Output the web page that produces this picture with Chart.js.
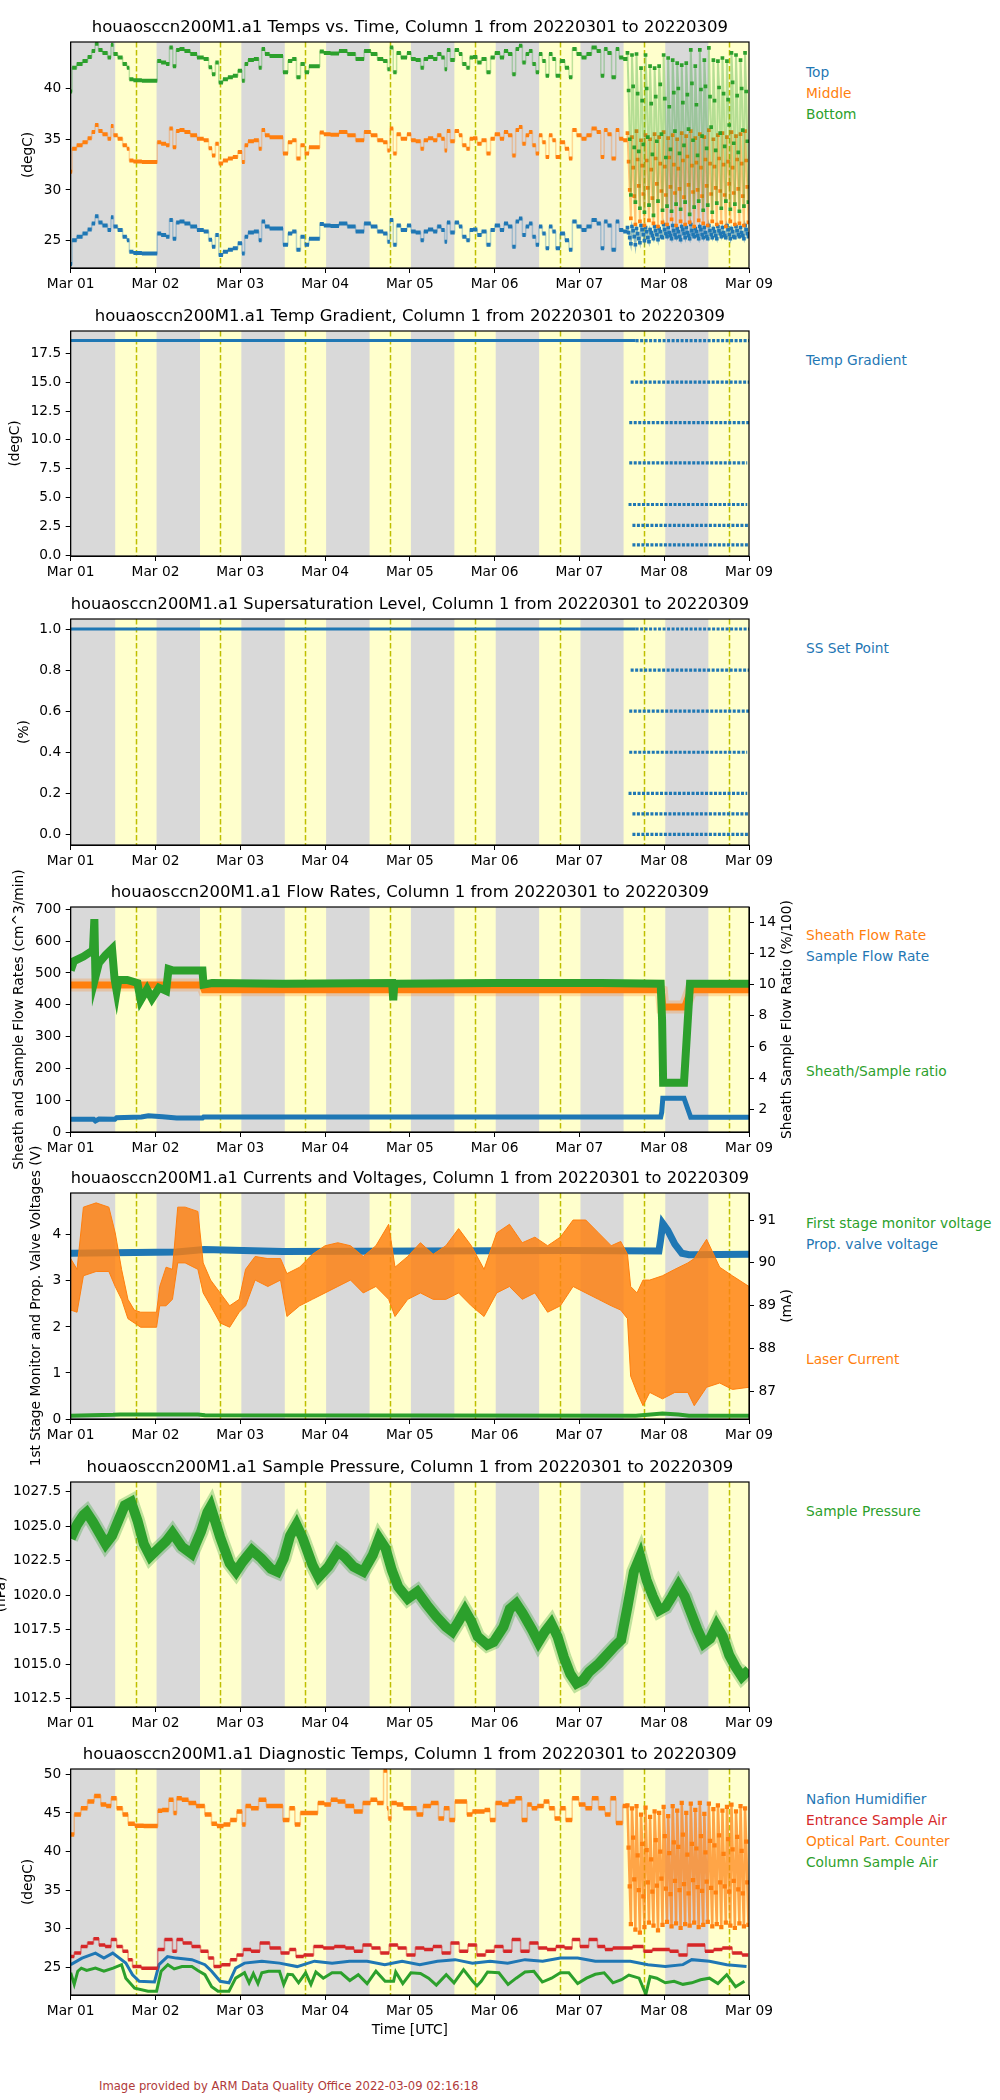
<!DOCTYPE html>
<html>
<head>
<meta charset="utf-8">
<title>houaosccn200M1.a1 Column 1, 20220301 to 20220309</title>
<script src="https://cdn.jsdelivr.net/npm/chart.js@4.4.1/dist/chart.umd.min.js"></script>
<style>
  html, body { margin: 0; padding: 0; background: #fff; }
  body { position: relative; width: 1000px; height: 2100px; overflow: hidden; font-family: "DejaVu Sans", sans-serif; }
  canvas { position: absolute; left: 0; }
  .lg { position: absolute; left: 806px; font-size: 13.75px; line-height: 16px; white-space: nowrap; }
  .foot { position: absolute; left: 99px; top: 2079px; font-size: 11.6px; line-height: 14px; color: #b03a3a; white-space: nowrap; }
</style>
</head>
<body>
<div class="lg" style="top:64px;color:#1f77b4">Top</div>
<div class="lg" style="top:85px;color:#ff7f0e">Middle</div>
<div class="lg" style="top:106px;color:#2ca02c">Bottom</div>
<div class="lg" style="top:352px;color:#1f77b4">Temp Gradient</div>
<div class="lg" style="top:640px;color:#1f77b4">SS Set Point</div>
<div class="lg" style="top:927px;color:#ff7f0e">Sheath Flow Rate</div>
<div class="lg" style="top:948px;color:#1f77b4">Sample Flow Rate</div>
<div class="lg" style="top:1063px;color:#2ca02c">Sheath/Sample ratio</div>
<div class="lg" style="top:1215px;color:#2ca02c">First stage monitor voltage</div>
<div class="lg" style="top:1236px;color:#1f77b4">Prop. valve voltage</div>
<div class="lg" style="top:1351px;color:#ff7f0e">Laser Current</div>
<div class="lg" style="top:1503px;color:#2ca02c">Sample Pressure</div>
<div class="lg" style="top:1791px;color:#1f77b4">Nafion Humidifier</div>
<div class="lg" style="top:1812px;color:#d62728">Entrance Sample Air</div>
<div class="lg" style="top:1833px;color:#ff7f0e">Optical Part. Counter</div>
<div class="lg" style="top:1854px;color:#2ca02c">Column Sample Air</div>
<div class="foot">Image provided by ARM Data Quality Office 2022-03-09 02:16:18</div>
<script>
const BLUE = '#1f77b4', ORANGE = '#ff7f0e', GREEN = '#2ca02c', RED = '#d62728';
Chart.defaults.font.family = '"DejaVu Sans", sans-serif';
Chart.defaults.font.size = 13.75;
Chart.defaults.color = '#000';

// x axis: hours since 2022-03-01 00:00 UTC
const dayLabels = ['Mar 01', 'Mar 02', 'Mar 03', 'Mar 04', 'Mar 05', 'Mar 06', 'Mar 07', 'Mar 08', 'Mar 09'];
const dayTicksH = [0, 24, 48, 72, 96, 120, 144, 168, 192];
const sunriseH = [12.6, 36.6, 60.6, 84.6, 108.6, 132.6, 156.5, 180.5];
const sunsetH = [24.3, 48.3, 72.3, 96.3, 120.3, 144.3, 168.3, 192.3];
const noonH = [18.5, 42.4, 66.4, 90.4, 114.4, 138.4, 162.4, 186.4];

// y tick values
const tempTicks = [25, 30, 35, 40];
const gradTicks = [0, 2.5, 5, 7.5, 10, 12.5, 15, 17.5];
const ssTicks = [0, 0.2, 0.4, 0.6, 0.8, 1.0];
const flowTicks = [0, 100, 200, 300, 400, 500, 600, 700];
const ratioTicks = [2, 4, 6, 8, 10, 12, 14];
const voltTicks = [0, 1, 2, 3, 4];
const mATicks = [87, 88, 89, 90, 91];
const pressTicks = [1012.5, 1015, 1017.5, 1020, 1022.5, 1025, 1027.5];
const diagTicks = [25, 30, 35, 40, 45, 50];

// ---- Temps vs. Time
const colHours = [0,0.8,2.6,4.1,5.5,6.4,7.4,8.3,9.7,11.2,11.6,12.6,14.0,15.4,16.4,16.8,18.7,21.6,24.1,24.9,26.3,27.7,28.2,29.6,30.1,31.5,32.9,34.8,36.7,38.6,39.5,40.5,41.4,42.4,43.8,45.2,46.6,48.0,49.0,49.5,50.9,52.8,53.7,54.4,55.6,57.0,59.4,60.8,62.2,63.2,64.6,65.5,67.0,67.9,70.3,70.7,72.6,74.5,77.4,79.2,82.1,84.0,85.9,87.7,89.2,90.1,90.6,92.0,92.5,94.4,
  96,96.7,98.6,99.5,100.4,101.9,103.3,104.2,105.6,106.1,106.9,108.0,109.4,110.4,111.3,112.7,113.2,114.6,115.6,117.0,118.4,119.3,120.8,122.2,123.1,124.5,125.5,126.4,127.4,128.3,129.3,130.2,131.2,132.1,133.0,134.0,134.9,135.9,136.8,137.8,139.2,140.6,141.5,142.5,143.9,145.3,146.7,148.2,149.6,150.5,151.5,152.4,153.8,154.8,155.7,157.1];
const topTemp = [22.7,25.05,25.4,25.7,26.1,26.7,27.4,26.8,26.5,26.05,27.3,26.4,26.05,25.4,25.05,23.9,23.8,23.75,23.75,25.7,25.55,25.4,27.05,25.2,26.8,26.9,26.7,26.4,26.05,25.9,25.1,24.4,25.55,23.6,23.9,24.1,24.25,24.75,23.75,25.4,25.8,25.9,25.05,26.9,26.4,26.2,26.2,24.6,25.7,25.9,24.1,25.4,24.6,25.2,25.2,26.65,26.5,26.45,26.7,26.4,25.9,26.7,26.4,25.9,25.7,24.9,27.05,24.6,26.5,26.05,
  26.5,25.9,25.8,25.05,25.9,26.1,25.9,26.4,26.05,24.9,26.8,25.8,26.8,26.4,25.4,25.05,26.05,26.1,25.55,25.9,24.6,26.05,26.5,26.05,26.7,26.4,24.4,26.9,27.2,25.55,26.4,26.7,25.4,24.6,26.4,25.7,24.25,26.4,25.9,24.25,25.7,25.05,24.1,26.9,26.4,26.05,26.4,27.05,26.7,24.25,26.9,26.5,24.1,26.9,26.05,25.9];
const midTemp = [31.8,34.05,34.4,34.7,35.1,35.7,36.4,35.8,35.5,35.05,36.3,35.4,35.05,34.4,34.05,32.9,32.8,32.75,32.75,34.7,34.55,34.4,36.05,34.2,35.8,35.9,35.7,35.4,35.05,34.9,34.1,33.4,34.55,32.6,32.9,33.1,33.25,33.75,32.75,34.4,34.8,34.9,34.05,35.9,35.4,35.2,35.2,33.6,34.7,34.9,33.1,34.4,33.6,34.2,34.2,35.65,35.5,35.45,35.7,35.4,34.9,35.7,35.4,34.9,34.7,33.9,36.05,33.6,35.5,35.05,
  35.5,34.9,34.8,34.05,34.9,35.1,34.9,35.4,35.05,33.9,35.8,34.8,35.8,35.4,34.4,34.05,35.05,35.1,34.55,34.9,33.6,35.05,35.5,35.05,35.7,35.4,33.4,35.9,36.2,34.55,35.4,35.7,34.4,33.6,35.4,34.7,33.25,35.4,34.9,33.25,34.7,34.05,33.1,35.9,35.4,35.05,35.4,36.05,35.7,33.25,35.9,35.5,33.1,35.9,35.05,34.9];
const botTemp = [39.7,42.05,42.4,42.7,43.1,43.7,44.4,43.8,43.5,43.05,44.3,43.4,43.05,42.4,42.05,40.9,40.8,40.75,40.75,42.7,42.55,42.4,44.05,42.2,43.8,43.9,43.7,43.4,43.05,42.9,42.1,41.4,42.55,40.6,40.9,41.1,41.25,41.75,40.75,42.4,42.8,42.9,42.05,43.9,43.4,43.2,43.2,41.6,42.7,42.9,41.1,42.4,41.6,42.2,42.2,43.65,43.5,43.45,43.7,43.4,42.9,43.7,43.4,42.9,42.7,41.9,44.05,41.6,43.5,43.05,
  43.5,42.9,42.8,42.05,42.9,43.1,42.9,43.4,43.05,41.9,43.8,42.8,43.8,43.4,42.4,42.05,43.05,43.1,42.55,42.9,41.6,43.05,43.5,43.05,43.7,43.4,41.4,43.9,44.2,42.55,43.4,43.7,42.4,41.6,43.4,42.7,41.25,43.4,42.9,41.25,42.7,42.05,41.1,43.9,43.4,43.05,43.4,44.05,43.7,41.25,43.9,43.5,41.1,43.9,43.05,42.9];
// set-point cycling from Mar 07 afternoon: samples every 0.32 h
const cycleStartH = 157.6, cycleStepH = 0.32;
const topCycle = [26.3,25.8,25.3,24.7, 26.4,26.0,25.4,24.6, 26.2,25.7,25.2,24.8, 26.5,26.1,25.6,25.0, 26.3,25.9,25.3,24.9, 26.1,25.8,25.5,25.2, 26.4,26.0,25.6,25.1, 26.2,25.9,25.4,25.3, 26.6,26.1,25.7,25.4,
  26.3,25.8,25.5,25.2, 26.5,26.0,25.6,25.3, 26.2,25.9,25.4,25.1, 26.4,26.1,25.7,25.3, 26.3,25.8,25.5,25.2, 26.6,26.0,25.6,25.4, 26.2,25.9,25.5,25.2, 26.4,26.1,25.6,25.3, 26.3,25.8,25.4,25.2,
  26.5,26.0,25.6,25.3, 26.2,25.9,25.5,25.2, 26.4,26.0,25.7,25.4, 26.3,25.8,25.5,25.3, 26.5,26.1,25.6,25.2, 26.2,25.9,25.4,25.3, 26.4,26.0,25.6,25.4, 26.3,25.8,25.5,25.2, 26.5,26.1,25.7,25.4];
const midCycle = [35.6,32.8,30.0,27.2, 35.2,32.2,29.4,26.6, 35.8,33.0,30.4,26.9, 34.9,32.4,29.6,26.5, 35.4,32.9,30.2,27.0, 35.0,32.0,29.2,26.7, 35.5,33.1,30.6,26.4, 35.2,32.6,29.9,26.8, 35.7,32.3,29.5,26.6,
  35.1,33.2,30.3,27.1, 35.4,32.5,29.7,26.5, 35.0,32.1,30.1,26.9, 35.6,32.9,29.3,26.6, 35.3,33.3,30.5,26.8, 35.8,32.4,29.8,26.4, 35.1,32.7,30.0,27.0, 35.5,32.2,29.4,26.7, 35.2,33.0,30.4,26.5,
  35.9,32.6,29.6,26.9, 35.0,32.3,30.2,26.6, 35.4,33.1,29.9,26.8, 35.6,32.5,29.5,26.4, 35.2,32.8,30.6,26.9, 35.7,32.2,29.7,26.6, 35.3,33.0,30.1,26.7, 35.5,32.6,29.4,26.5, 35.8,32.9,30.3,26.8];
const botCycle = [43.5,39.8,35.0,29.5, 43.3,40.2,34.2,28.8, 43.4,39.5,33.8,28.2, 42.0,38.8,34.5,27.8, 43.3,40.0,35.2,28.5, 42.2,38.5,33.5,27.5, 42.0,39.2,34.8,28.9, 42.2,40.4,35.5,28.0, 43.3,39.0,33.2,28.4,
  43.0,38.2,34.0,27.9, 42.8,39.6,35.8,28.6, 42.5,40.0,33.6,28.1, 42.3,38.6,34.4,28.8, 42.5,39.4,36.0,27.6, 43.8,40.5,34.9,28.3, 42.2,38.4,33.4,28.9, 43.8,39.9,35.3,28.0, 42.8,40.2,34.1,28.5,
  44.0,39.2,36.2,27.8, 42.8,38.8,33.9,28.7, 42.7,40.1,35.6,28.2, 43.0,39.5,34.3,28.9, 42.7,38.9,36.4,28.1, 43.5,40.6,34.6,28.6, 43.3,39.3,33.7,27.9, 42.8,40.0,35.9,28.4, 43.5,39.7,34.8,28.8];

// ---- Temp gradient and supersaturation set points
const gradSteady = 18.6, ssSteady = 1.0, steadyEndH = 159.9;
const gradLevels = [18.6, 15.0, 11.5, 8.0, 4.4, 2.6, 0.9];
const ssLevels = [1.0, 0.8, 0.6, 0.4, 0.2, 0.1, 0.0];
const levelStartH = [159.9, 158.5, 158.1, 158.1, 157.9, 159.0, 159.0];
const levelEndH = [192, 192, 192, 191.5, 191.5, 192, 192];

// ---- Flow rates
const sheathH = [0, 37.3, 37.8, 166.0, 167.2, 167.6, 173.8, 175.6, 192];
const sheathFlow = [462, 462, 447, 447, 442, 393, 393, 447, 447];
const sampleH = [0, 6.5, 7.0, 8.0, 12.5, 13.0, 20, 22, 26, 30, 37.3, 37.6, 167.0, 167.3, 167.6, 173.6, 175.5, 192];
const sampleFlow = [40, 40, 35, 41, 40, 45, 47, 51, 48, 44, 44, 47, 47, 62, 106, 106, 46, 46];
const ratioH = [0, 0.9, 3.6, 6.3, 6.7, 7.0, 8.0, 9.9, 11.7, 12.4, 13.0, 13.5, 16.0, 18.9, 19.8, 21.6, 23.0, 25.0, 27.0, 27.7, 29.0, 36.0, 37.3, 37.6, 40.0, 60.0, 91.0, 91.3, 91.6, 120.0, 150.0, 167.0, 167.4, 167.7, 173.6, 175.3, 192.0];
const flowRatio = [10.9, 11.5, 11.8, 12.2, 14.2, 10.5, 11.4, 11.9, 12.3, 10.4, 9.6, 10.3, 10.3, 10.1, 9.0, 9.7, 9.1, 9.8, 9.6, 11.0, 10.9, 10.9, 10.9, 10.0, 10.1, 10.05, 10.1, 9.0, 10.05, 10.1, 10.1, 10.05, 7.7, 3.7, 3.7, 10.05, 10.05];

// ---- Currents and voltages
const valveH = [0, 30, 37.8, 60, 100, 140, 166.5, 167, 167.6, 169, 171, 173, 175, 192];
const valveV = [3.6, 3.63, 3.68, 3.64, 3.65, 3.66, 3.65, 3.9, 4.25, 4.1, 3.8, 3.6, 3.57, 3.58];
const stage1H = [0, 12, 14, 36, 38, 160, 167.5, 172, 175, 192];
const stage1V = [0.07, 0.09, 0.1, 0.1, 0.08, 0.07, 0.12, 0.1, 0.07, 0.07];
const laserH = [0,1.8,3.6,7.2,10.8,12.6,14.4,16.2,18.0,19.8,24.3,25.2,27.0,28.8,30.3,32.4,36.0,37.5,39.6,42.3,45.0,47.7,49.5,52.2,55.8,59.4,61.2,64.8,68.4,72.0,75.6,79.2,82.8,86.4,90.0,91.8,95.4,99.0,102.6,106.2,109.8,113.4,117.0,120.6,124.2,127.8,131.4,135.0,138.6,142.2,145.8,149.4,153.0,155.7,157.6,158.5,160.3,162.0,163.9,167.5,171.0,174.7,176.5,180.0,183.7,187.3,192.0];
const laserHigh = [90.1,89.85,91.3,91.4,91.3,90.7,89.85,89.15,88.9,88.85,88.85,89.45,89.9,89.85,91.3,91.3,91.2,90.0,89.6,89.3,89.0,89.15,89.85,90.15,90.1,90.1,89.75,89.9,90.2,90.4,90.47,90.4,90.15,90.4,90.9,89.9,90.15,90.47,90.2,90.4,90.8,90.4,89.85,90.7,90.9,90.47,90.6,90.4,90.6,91.0,91.0,90.7,90.4,90.5,90.2,89.45,89.3,89.6,89.6,89.7,89.85,90.0,90.1,90.55,89.9,89.7,89.45];
const laserLow = [88.9,88.85,89.7,89.8,89.8,89.45,89.15,88.7,88.6,88.5,88.5,89.0,89.0,89.15,90.0,90.0,89.85,89.3,89.0,88.6,88.5,88.85,89.0,89.6,89.45,89.6,88.75,89.0,89.15,89.3,89.45,89.6,89.3,89.45,89.15,88.75,89.15,89.3,89.15,89.15,89.3,89.0,88.75,89.3,89.45,89.15,89.3,88.85,89.0,89.45,89.3,89.15,89.0,88.9,88.7,87.36,86.98,86.67,86.98,86.83,86.98,86.98,86.67,87.1,87.2,87.05,87.1];

// ---- Sample pressure
const pressH = [0,1.8,3.6,4.5,6.3,8.1,9.9,11.7,13.5,15.3,17.1,18.9,20.7,22.5,24.3,27.0,28.8,31.5,34.2,36.9,38.7,39.6,42.3,45.0,46.8,48.6,51.3,54.0,56.7,58.5,60.3,62.1,63.9,65.7,68.4,70.2,72.9,75.6,77.4,80.1,82.8,85.5,87.3,89.1,90.9,92.7,95.4,98.1,100.8,103.5,106.2,108.0,109.8,111.6,113.4,115.2,117.9,119.7,122.5,124.3,126.1,127.9,130.6,132.4,134.2,136.0,137.8,139.6,141.4,143.2,145.0,146.8,149.5,152.2,154.0,155.8,157.6,159.4,161.2,163.0,164.8,166.6,168.4,170.2,172.0,173.8,175.6,177.4,179.2,181.0,182.8,184.6,186.4,188.2,190.0,192.0];
const pressure = [1024.1,1025.1,1025.8,1026.0,1025.3,1024.5,1023.7,1024.3,1025.4,1026.5,1026.75,1025.4,1023.7,1022.8,1023.25,1023.9,1024.5,1023.5,1023.0,1024.6,1026.0,1026.4,1024.2,1022.3,1021.7,1022.4,1023.25,1022.65,1021.9,1021.7,1022.65,1024.3,1025.1,1024.1,1022.2,1021.3,1022.05,1023.15,1022.8,1022.05,1021.7,1022.9,1024.1,1023.4,1021.8,1020.6,1019.75,1020.25,1019.3,1018.45,1017.7,1017.35,1018.1,1018.9,1018.1,1017.0,1016.4,1016.6,1017.7,1019.0,1019.4,1018.7,1017.5,1016.6,1017.35,1017.95,1017.0,1015.5,1014.3,1013.6,1013.85,1014.45,1015.05,1015.8,1016.3,1016.75,1019.15,1021.7,1022.8,1021.1,1019.9,1018.9,1019.15,1019.9,1020.7,1019.9,1018.7,1017.5,1016.5,1016.85,1017.8,1017.0,1015.65,1014.8,1014.1,1014.6];

// ---- Diagnostic temps
const opcH = [0,2.0,3.8,5.7,7.6,9.4,10.7,12.2,13.8,15.6,16.9,19.4,21.9,24.3,25.0,26.8,28.7,29.5,30.5,32.4,34.3,36.7,39.2,40.5,42.3,44.2,46.1,47.9,49.2,49.8,52.3,54.1,56.6,59.1,61.0,62.8,64.1,65.9,67.8,69.0,70.9,72.7,74.6,76.5,79.0,81.4,83.9,85.8,87.7,89.4,89.7,90.1,91.4,93.2,95.1,97.0,98.8,100.7,103.2,105.0,106.3,108.1,109.4,111.2,113.1,114.3,116.2,118.1,119.3,121.2,123.0,124.9,126.8,128.6,129.9,131.1,133.0,134.8,136.1,137.9,139.2,141.0,142.9,144.8,146.6,148.5,150.3,152.2,153.4,155.3,157.2];
const opcTemp = [42.2,44.8,45.6,46.5,47.2,46.1,45.9,46.9,45.6,44.8,43.6,43.35,43.3,43.3,45.3,45.4,46.7,45.0,46.9,46.7,46.3,45.9,44.8,43.6,43.3,43.5,44.1,45.2,43.5,45.9,45.6,46.7,45.9,45.9,44.1,45.6,43.5,45.0,45.0,45.0,46.3,46.1,46.7,46.5,45.9,45.2,46.3,46.7,46.3,50.5,45.6,44.3,46.3,46.1,45.6,45.6,44.8,45.9,46.3,44.3,45.6,44.1,46.5,46.5,44.8,45.2,45.2,45.4,44.1,46.3,46.1,46.5,46.9,44.1,46.1,45.6,45.9,46.5,45.6,44.3,45.6,44.1,46.9,46.1,45.6,46.9,45.6,44.8,46.9,43.7,45.9];
const opcCycle = [46.0,40.5,35.5,30.6, 45.6,41.8,36.4,29.9, 45.9,39.5,35.0,29.5, 44.8,41.0,34.2,30.2, 45.7,40.2,36.0,30.8, 44.5,39.0,34.8,30.4, 45.2,41.5,35.6,29.8, 45.0,40.0,36.5,30.5, 45.8,42.0,35.2,30.9,
  44.6,39.8,34.5,30.3, 45.9,41.2,36.2,30.7, 45.3,40.6,35.0,30.1, 46.3,42.2,35.8,30.6, 45.0,39.6,34.6,30.4, 46.2,41.0,36.3,30.8, 45.4,40.4,35.4,30.2, 46.3,42.0,34.9,30.5, 44.9,39.9,36.1,30.9,
  46.2,41.4,35.3,30.3, 45.5,40.8,34.7,30.6, 46.0,42.1,36.0,30.2, 45.3,39.7,35.5,30.8, 45.8,41.6,34.8,30.4, 46.1,40.3,36.2,30.1, 45.2,41.9,35.1,30.7, 45.9,40.1,34.6,30.3, 45.6,41.3,36.0,30.5];
const inletH = [0,2.0,3.8,5.7,7.2,8.8,10.7,12.2,13.8,15.6,16.9,18.1,21.9,24.3,25.0,28.1,29.5,30.5,33.0,35.5,38.0,39.9,41.1,44.2,46.1,47.9,49.8,52.3,54.8,57.9,61.0,62.8,64.7,67.2,70.3,72.7,76.5,79.0,81.4,83.9,86.4,88.9,91.4,93.8,96.3,98.8,101.3,103.8,106.3,108.8,111.2,113.7,116.2,118.7,121.2,123.7,126.1,128.6,131.1,133.6,136.1,138.6,141.0,142.9,145.4,147.9,150.3,152.2,154.7,157.2,160.9,163.4,165.9,168.3,170.8,173.3,175.8,178.3,180.8,183.2,185.7,188.8,191.3];
const inletTemp = [26.4,26.85,27.7,28.15,28.7,27.9,27.7,28.6,27.7,27.1,26.0,25.1,24.9,24.9,27.3,28.6,27.1,28.6,28.15,27.7,27.1,26.2,25.1,25.35,26.0,26.6,27.3,27.1,28.15,27.5,26.85,27.3,26.4,26.6,27.7,27.5,27.7,27.5,27.1,27.9,27.5,26.85,27.9,27.5,26.6,27.5,27.3,27.7,26.85,28.15,27.1,27.9,26.6,27.1,27.7,27.1,28.6,27.1,28.15,27.5,27.3,27.7,27.5,28.6,27.7,28.6,27.7,27.3,27.5,27.5,27.7,27.1,27.3,27.3,27.1,26.6,27.9,27.9,27.1,27.3,27.5,26.85,26.6];
const nafionH = [0,3.2,7.0,9.4,11.9,15.6,17.5,19.4,23.7,25.0,27.4,29.9,34.3,38.0,39.9,42.3,44.8,46.7,49.2,54.1,59.1,64.1,69.0,74.0,78.9,83.9,88.9,93.8,98.8,103.8,108.8,113.7,118.7,123.7,128.6,133.6,138.6,143.5,148.5,153.4,158.4,163.4,168.3,173.3,175.8,180.8,185.7,191.3];
const nafionTemp = [25.35,26.2,26.85,26.2,26.85,25.55,24.05,23.2,23.1,25.35,26.4,26.2,26.0,25.35,24.5,23.2,23.0,24.9,25.55,25.8,25.55,25.1,25.8,25.55,25.8,25.8,25.35,25.8,25.35,25.8,26.0,25.55,25.8,25.55,26.0,25.8,26.2,26.2,25.8,25.8,25.8,25.35,25.1,25.35,26.0,25.8,25.35,25.1];
const columnH = [0,1.0,2.0,3.0,4.5,7.0,9.4,12.0,14.4,15.6,18.1,21.9,24.3,25.6,27.5,29.3,31.5,34.3,36.0,38.0,39.9,41.7,44.8,46.7,49.2,50.5,51.7,53.0,54.1,56.0,59.1,60.3,61.5,62.8,64.5,66.5,68.0,69.4,71.5,74.0,76.5,79.0,81.4,83.9,86.4,89.0,91.4,92.0,94.0,96.3,99.0,101.3,103.5,106.3,108.5,111.2,113.8,115.0,116.2,118.0,121.2,123.8,126.1,128.6,131.1,133.5,136.1,138.6,141.0,143.5,146.0,148.5,151.0,153.5,155.9,158.0,160.9,162.8,164.0,165.9,168.3,170.8,173.3,175.8,178.3,180.8,183.2,185.7,188.2,190.7];
const columnTemp = [24.3,22.8,24.5,24.9,24.6,24.9,24.5,24.9,25.35,23.6,22.3,21.9,21.9,24.5,25.35,24.8,25.1,25.1,24.6,24.05,22.5,21.9,21.9,23.6,24.3,23.0,24.2,22.9,24.3,24.5,24.5,22.8,24.1,24.05,23.0,24.3,22.8,24.4,23.6,24.3,24.3,23.3,24.05,22.9,24.5,23.2,23.2,24.4,22.9,24.3,24.2,23.6,22.7,24.05,23.0,24.7,23.2,22.6,23.2,24.4,24.3,22.8,23.6,24.4,24.5,23.1,23.6,24.3,24.3,22.9,23.6,24.1,24.3,23.0,23.4,24.0,23.6,21.5,23.8,23.6,23.0,23.2,22.8,23.0,23.4,23.6,22.9,24.05,22.5,23.2];

function xy(xs, ys) { return xs.map((x, i) => ({x, y: ys[i]})); }
function regular(t0, dt, ys) { return ys.map((y, i) => ({x: t0 + i * dt, y})); }
function seg(x0, x1, y) { return [{x: x0, y}, {x: x1, y}]; }
// each reading held from the midpoint with its neighbour on the left to the one on the right
function plateaus(xs, ys) {
  const out = [];
  xs.forEach((x, i) => {
    const l = i ? (xs[i - 1] + x) / 2 : x;
    const r = i < xs.length - 1 ? (x + xs[i + 1]) / 2 : x + 0.5;
    out.push({x: l, y: ys[i]}, {x: r, y: ys[i]}, {x: r, y: null});
  });
  return out;
}
function alpha(hex, a) {
  const n = parseInt(hex.slice(1), 16);
  return 'rgba(' + (n >> 16) + ',' + ((n >> 8) & 255) + ',' + (n & 255) + ',' + a + ')';
}
function line(data, color, width, extra) {
  return Object.assign({data, borderColor: color, backgroundColor: color, borderWidth: width,
    pointRadius: 0, fill: false, tension: 0, borderCapStyle: 'butt'}, extra || {});
}
function cycling(data, color, lineAlpha, lw, r) {
  return line(data, alpha(color, lineAlpha), lw, {pointRadius: r, pointStyle: 'rect',
    pointBackgroundColor: color, pointBorderColor: color, pointBorderWidth: 0});
}
function steps(xs, ys, color, width, connAlpha) {
  return [line(plateaus(xs, ys), color, width),
          line(xy(xs, ys), alpha(color, connAlpha), 1.5, {stepped: 'middle'})];
}

// night (gray) / day (yellow) shading, solar-noon lines, frame, right-hand label
const shade = {
  id: 'shade',
  beforeDatasetsDraw(chart) {
    const {ctx, chartArea: a} = chart, x = chart.scales.x;
    ctx.save();
    ctx.beginPath(); ctx.rect(a.left, a.top, a.right - a.left, a.bottom - a.top); ctx.clip();
    ctx.fillStyle = '#d9d9d9';
    ctx.fillRect(a.left, a.top, a.right - a.left, a.bottom - a.top);
    ctx.fillStyle = '#ffffcc';
    sunriseH.forEach((h, i) => {
      const x0 = x.getPixelForValue(h), x1 = x.getPixelForValue(sunsetH[i]);
      ctx.fillRect(x0, a.top, x1 - x0, a.bottom - a.top);
    });
    ctx.strokeStyle = '#bfbf00'; ctx.lineWidth = 1.5; ctx.setLineDash([5.5, 2.5]);
    noonH.forEach(h => {
      const px = Math.round(x.getPixelForValue(h)) + 0.5;
      ctx.beginPath(); ctx.moveTo(px, a.top); ctx.lineTo(px, a.bottom); ctx.stroke();
    });
    ctx.restore();
  },
  afterDraw(chart, args, opts) {
    const {ctx, chartArea: a} = chart;
    ctx.save();
    ctx.strokeStyle = '#000'; ctx.lineWidth = 1.2;
    ctx.strokeRect(a.left, a.top, a.right - a.left, a.bottom - a.top);
    if (opts.rightLabel) {
      ctx.translate(787, (a.top + a.bottom) / 2);
      ctx.rotate(-Math.PI / 2);
      ctx.font = '13.75px "DejaVu Sans", sans-serif';
      ctx.fillStyle = '#000'; ctx.textAlign = 'center'; ctx.textBaseline = 'middle';
      ctx.fillText(opts.rightLabel, 0, 0);
    }
    ctx.restore();
  }
};

const axisGrid = {drawOnChartArea: false, tickLength: 5, color: '#000', tickColor: '#000', lineWidth: 1};
const fixedTicks = vals => scale => { scale.ticks = vals.map(v => ({value: v})); };

function makeChart(cfg) {
  const h = Math.round(cfg.bottom - cfg.top) + 140;
  const cv = document.createElement('canvas');
  cv.width = 1000; cv.height = h;
  cv.style.top = (cfg.top - 70) + 'px';
  cv.style.width = '1000px'; cv.style.height = h + 'px';
  document.body.appendChild(cv);
  const xH = cfg.xTitle ? 50 : 30;
  const scales = {
    x: {
      type: 'linear', min: 0, max: 192,
      afterBuildTicks: fixedTicks(dayTicksH),
      ticks: {autoSkip: false, maxRotation: 0, padding: 3.5,
        callback: v => dayLabels[dayTicksH.indexOf(v)]},
      grid: axisGrid, border: {color: '#000'},
      title: cfg.xTitle ? {display: true, text: cfg.xTitle, padding: {top: 0, bottom: 6.75}} : {display: false},
      afterFit(s) { s.height = xH; }
    },
    y: {
      type: 'linear', position: 'left', min: cfg.ymin, max: cfg.ymax,
      afterBuildTicks: fixedTicks(cfg.yticks),
      ticks: {padding: 4.5, callback: cfg.yfmt},
      grid: axisGrid, border: {color: '#000'},
      title: {display: true, text: cfg.ylabel, padding: {top: cfg.ylabelPad, bottom: 0}},
      afterFit(s) { s.width = 70.7; }
    }
  };
  if (cfg.y1) {
    scales.y1 = {
      type: 'linear', position: 'right', min: cfg.y1.min, max: cfg.y1.max,
      afterBuildTicks: fixedTicks(cfg.y1.ticks),
      ticks: {padding: 4.5, callback: v => String(Math.round(v))},
      grid: axisGrid, border: {color: '#000'},
      afterFit(s) { s.width = 50; }
    };
  }
  return new Chart(cv, {
    type: 'line',
    data: {datasets: cfg.datasets},
    options: {
      responsive: false, animation: false, events: [],
      layout: {padding: {top: 45.6, left: 0, right: cfg.y1 ? 201 : 251, bottom: 70 - xH}},
      plugins: {
        legend: {display: false}, tooltip: {enabled: false},
        title: {display: true, text: cfg.title, fullSize: false, color: '#000',
          font: {size: 16.5, weight: 'normal'}, padding: {top: 0, bottom: 4.6}},
        shade: {rightLabel: cfg.y1 ? cfg.y1.label : ''}
      },
      scales
    },
    plugins: [shade]
  });
}

const fmt0 = v => String(Math.round(v));
const fmt1 = v => v.toFixed(1);
const TITLE = (s) => 'houaosccn200M1.a1 ' + s + ', Column 1 from 20220301 to 20220309';

makeChart({
  top: 42.3, bottom: 268, title: TITLE('Temps vs. Time'),
  ymin: 22.31, ymax: 44.58, yticks: tempTicks, yfmt: fmt0, ylabel: '(degC)', ylabelPad: 20.2,
  datasets: [
    cycling(regular(cycleStartH, cycleStepH, botCycle), GREEN, 0.35, 2, 2.6),
    cycling(regular(cycleStartH, cycleStepH, midCycle), ORANGE, 0.45, 2, 2.6),
    cycling(regular(cycleStartH, cycleStepH, topCycle), BLUE, 0.5, 2, 2.6)
  ].concat(steps(colHours, botTemp, GREEN, 4, 0.3),
           steps(colHours, midTemp, ORANGE, 4, 0.3),
           steps(colHours, topTemp, BLUE, 4, 0.3))
});

makeChart({
  top: 330.7, bottom: 556, title: TITLE('Temp Gradient'),
  ymin: -0.06, ymax: 19.43, yticks: gradTicks, yfmt: fmt1, ylabel: '(degC)', ylabelPad: 7.5,
  datasets: [line(seg(0, steadyEndH, gradSteady), BLUE, 3)].concat(
    gradLevels.map((g, i) => line(seg(levelStartH[i], levelEndH[i], g), BLUE, 3.2, {borderDash: [3, 1.5]})))
});

makeChart({
  top: 618.7, bottom: 844.3, title: TITLE('Supersaturation Level'),
  ymin: -0.0517, ymax: 1.0488, yticks: ssTicks, yfmt: fmt1, ylabel: '(%)', ylabelPad: 15.9,
  datasets: [line(seg(0, steadyEndH, ssSteady), BLUE, 3)].concat(
    ssLevels.map((s, i) => line(seg(levelStartH[i], levelEndH[i], s), BLUE, 3.2, {borderDash: [3, 1.5]})))
});

makeChart({
  top: 907, bottom: 1131.7, title: TITLE('Flow Rates'),
  ymin: 0, ymax: 707.2, yticks: flowTicks, yfmt: fmt0, ylabel: 'Sheath and Sample Flow Rates (cm^3/min)', ylabelPad: 10.8,
  y1: {min: 0.54, max: 14.98, ticks: ratioTicks, label: 'Sheath Sample Flow Ratio (%/100)'},
  datasets: [
    line(xy(ratioH, flowRatio), GREEN, 8, {yAxisID: 'y1'}),
    line(xy(sheathH, sheathFlow), ORANGE, 7),
    line(xy(sheathH, sheathFlow), alpha(ORANGE, 0.25), 13),
    line(xy(sampleH, sampleFlow), BLUE, 5)
  ]
});

makeChart({
  top: 1193.3, bottom: 1419.7, title: TITLE('Currents and Voltages'),
  ymin: 0, ymax: 4.91, yticks: voltTicks, yfmt: fmt0, ylabel: '1st Stage Monitor and Prop. Valve Voltages (V)', ylabelPad: 28.5,
  y1: {min: 86.36, max: 91.63, ticks: mATicks, label: '(mA)'},
  datasets: [
    line(xy(laserH, laserHigh), ORANGE, 1, {yAxisID: 'y1'}),
    line(xy(laserH, laserLow), ORANGE, 1, {yAxisID: 'y1', fill: '-1', backgroundColor: alpha(ORANGE, 0.82)}),
    line(xy(stage1H, stage1V), GREEN, 4),
    line(xy(valveH, valveV), BLUE, 7)
  ]
});

makeChart({
  top: 1481.7, bottom: 1707, title: TITLE('Sample Pressure'),
  ymin: 1011.9, ymax: 1028.19, yticks: pressTicks, yfmt: fmt1, ylabel: '(hPa)', ylabelPad: -6.4,
  datasets: [
    line(xy(pressH, pressure), GREEN, 10),
    line(xy(pressH, pressure), alpha(GREEN, 0.3), 15)
  ]
});

makeChart({
  top: 1769.3, bottom: 1995.3, title: TITLE('Diagnostic Temps'), xTitle: 'Time [UTC]',
  ymin: 21.42, ymax: 50.7, yticks: diagTicks, yfmt: fmt0, ylabel: '(degC)', ylabelPad: 20.2,
  datasets: [
    line(xy(columnH, columnTemp), GREEN, 3),
    cycling(regular(cycleStartH, cycleStepH, opcCycle), ORANGE, 0.7, 2.5, 3)
  ].concat(steps(opcH, opcTemp, ORANGE, 4.5, 0.4),
           steps(inletH, inletTemp, RED, 3.5, 0.5),
           [line(xy(nafionH, nafionTemp), BLUE, 3)])
});
</script>
</body>
</html>
